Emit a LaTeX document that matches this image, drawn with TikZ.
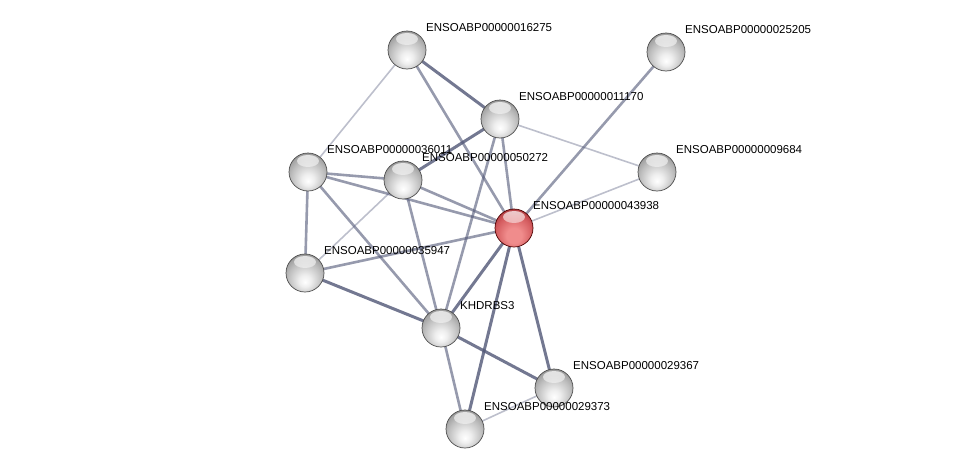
\documentclass[tikz,border=0pt]{standalone}
\usepackage{fontspec}
\setmainfont{Liberation Sans}
\usetikzlibrary{fadings}
\definecolor{ballgrey}{RGB}{140,140,140}
\definecolor{ballmid}{RGB}{190,190,190}
\definecolor{balllite}{RGB}{238,238,238}
\definecolor{redlite}{RGB}{240,140,140}
\definecolor{redmid}{RGB}{212,92,95}
\definecolor{reddark}{RGB}{160,45,50}
\pgfdeclareradialshading{greysphere}{\pgfpoint{0bp}{-12bp}}{%
  color(0bp)=(white); color(8bp)=(balllite); color(22bp)=(ballmid); color(34bp)=(ballgrey); color(60bp)=(ballgrey)}
\pgfdeclareradialshading{redsphere}{\pgfpoint{0bp}{-12bp}}{%
  color(0bp)=(redlite); color(10bp)=(redlite); color(24bp)=(redmid); color(35bp)=(reddark); color(60bp)=(reddark)}
\begin{document}
\begin{tikzpicture}[x=1pt,y=-1pt,
  gloss/.style={path picture={\fill[white,fill opacity=0.75,path fading=south] ([yshift=-8pt]path picture bounding box.north) ellipse (11pt and 6pt);}},
  prot/.style={circle,minimum size=38pt,inner sep=0pt,shading=greysphere,draw=gray!60!black,line width=0.7pt,gloss},
  hub/.style={prot,shading=redsphere,draw=red!30!black},
  lab/.style={anchor=west,font=\fontsize{11.5}{12}\selectfont,inner sep=1pt,text=black},
  thick edge/.style={draw={rgb,255:red,80;green,86;blue,118},line width=3pt,opacity=0.8},
  mid edge/.style={draw={rgb,255:red,80;green,86;blue,118},line width=2.6pt,opacity=0.6},
  light edge/.style={draw={rgb,255:red,90;green,96;blue,128},line width=1.6pt,opacity=0.4}]
\useasboundingbox (0,0) rectangle (975,474);
% node positions
\coordinate (p16275) at (407,50);
\coordinate (p25205) at (666,52);
\coordinate (p11170) at (500,119);
\coordinate (p36011) at (308,172);
\coordinate (p50272) at (403,180);
\coordinate (p9684) at (657,172);
\coordinate (p43938) at (514,228);
\coordinate (p35947) at (305,273);
\coordinate (pKH) at (441,328);
\coordinate (p29367) at (554,388);
\coordinate (p29373) at (465,429);
% edges
\path[thick edge] (p16275) -- (p11170);
\path[light edge] (p16275) -- (p36011);
\path[mid edge] (p16275) -- (p43938);
\path[thick edge] (p11170) -- (p50272);
\path[mid edge] (p11170) -- (p43938);
\path[mid edge] (p11170) -- (pKH);
\path[light edge] (p11170) -- (p9684);
\path[mid edge] (p25205) -- (p43938);
\path[light edge] (p9684) -- (p43938);
\path[mid edge] (p36011) -- (p50272);
\path[mid edge] (p36011) -- (p43938);
\path[mid edge] (p36011) -- (p35947);
\path[mid edge] (p36011) -- (pKH);
\path[mid edge] (p50272) -- (p43938);
\path[light edge] (p50272) -- (p35947);
\path[mid edge] (p50272) -- (pKH);
\path[mid edge] (p35947) -- (p43938);
\path[thick edge] (p35947) -- (pKH);
\path[thick edge] (p43938) -- (pKH);
\path[thick edge] (p43938) -- (p29373);
\path[thick edge] (p43938) -- (p29367);
\path[thick edge] (pKH) -- (p29367);
\path[mid edge] (pKH) -- (p29373);
\path[light edge] (p29373) -- (p29367);
% nodes
\node[prot] (n16275) at (p16275) {};
\node[prot] (n25205) at (p25205) {};
\node[prot] (n11170) at (p11170) {};
\node[prot] (n36011) at (p36011) {};
\node[prot] (n50272) at (p50272) {};
\node[prot] (n9684) at (p9684) {};
\node[hub] (n43938) at (p43938) {};
\node[prot] (n35947) at (p35947) {};
\node[prot] (nKH) at (pKH) {};
\node[prot] (n29367) at (p29367) {};
\node[prot] (n29373) at (p29373) {};
% labels
\node[lab] (l16275) at ([shift={(18pt,22pt)}]n16275.center) {ENSOABP00000016275};
\node[lab] (l25205) at ([shift={(18pt,22pt)}]n25205.center) {ENSOABP00000025205};
\node[lab] (l11170) at ([shift={(18pt,22pt)}]n11170.center) {ENSOABP00000011170};
\node[lab] (l36011) at ([shift={(18pt,22pt)}]n36011.center) {ENSOABP00000036011};
\node[lab] (l50272) at ([shift={(18pt,22pt)}]n50272.center) {ENSOABP00000050272};
\node[lab] (l9684) at ([shift={(18pt,22pt)}]n9684.center) {ENSOABP00000009684};
\node[lab] (l43938) at ([shift={(18pt,22pt)}]n43938.center) {ENSOABP00000043938};
\node[lab] (l35947) at ([shift={(18pt,22pt)}]n35947.center) {ENSOABP00000035947};
\node[lab] (lKH) at ([shift={(18pt,22pt)}]nKH.center) {KHDRBS3};
\node[lab] (l29367) at ([shift={(18pt,22pt)}]n29367.center) {ENSOABP00000029367};
\node[lab] (l29373) at ([shift={(18pt,22pt)}]n29373.center) {ENSOABP00000029373};
\end{tikzpicture}
\end{document}
